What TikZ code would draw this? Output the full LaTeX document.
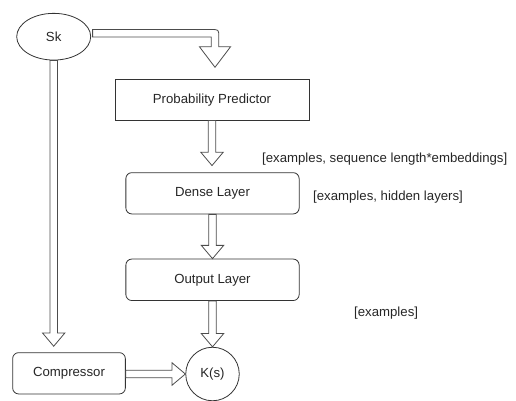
\documentclass[tikz,border=0pt]{standalone}
\usepackage{fontspec}
\setmainfont{Liberation Sans}
\usetikzlibrary{calc,shapes.geometric}
\newcommand\fsh{3.7}
\newcommand\fhh{11.2}
\newcommand\fhl{13.3}
\newcommand\fatV[2]{\draw[fat] ($(#1)+(-\fsh,0)$) -- ($(#2)+(-\fsh,-\fhl)$) -- ($(#2)+(-\fhh,-\fhl)$) -- (#2) -- ($(#2)+(\fhh,-\fhl)$) -- ($(#2)+(\fsh,-\fhl)$) -- ($(#1)+(\fsh,0)$) -- cycle;}
\newcommand\fatH[2]{\draw[fat] ($(#1)+(0,-\fsh)$) -- ($(#2)+(-\fhl,-\fsh)$) -- ($(#2)+(-\fhl,-\fhh)$) -- (#2) -- ($(#2)+(-\fhl,\fhh)$) -- ($(#2)+(-\fhl,\fsh)$) -- ($(#1)+(0,\fsh)$) -- cycle;}
\tikzset{
  every node/.style={font=\fontsize{13.2}{15.8}\selectfont, text=black!85},
  box/.style={draw=black!80, line width=0.8pt, rectangle, inner sep=0pt},
  rbox/.style={box, rounded corners=6pt},
  fat/.style={draw=black!70, line width=0.8pt, line join=miter},
  lbl/.style={anchor=west, inner sep=0pt},
}
\begin{document}
\begin{tikzpicture}[x=1pt,y=-1pt]
\useasboundingbox (0,0) rectangle (516,401);
\node[draw=black!80, line width=0.8pt, ellipse, minimum width=74pt, minimum height=46.7pt, inner sep=0pt] (Sk) at (53.7,36.7) {Sk};
\node[box, minimum width=194pt, minimum height=40.7pt] (PP) at (212,99.7) {Probability Predictor};
\node[rbox, minimum width=173.3pt, minimum height=41.3pt] (DL) at (212.5,193.3) {Dense Layer};
\node[rbox, minimum width=173.3pt, minimum height=41.5pt] (OL) at (212.5,279.8) {Output Layer};
\node[rbox, minimum width=112.7pt, minimum height=41.3pt] (Comp) at (69,373.3) {Compressor};
\node[draw=black!80, line width=0.8pt, circle, minimum size=53.5pt, inner sep=0pt] (K) at (212.5,374) {K(s)};
\node[lbl] (l1) at (262,159) {[examples, sequence length*embeddings]};
\node[lbl] (l2) at (313,197) {[examples, hidden layers]};
\node[lbl] (l3) at (354,313) {[examples]};
% Sk to Probability Predictor (bent arrow, free end)
\coordinate (skC) at (215,33.3);
\coordinate (skTip) at (215,67.3);
\draw[fat] ($(Sk.east |- skC)+(1.5,-3.75)$) -- ($(skC)+(-3.5,-3.75)$) .. controls ($(skC)+(3.75,-3.75)$) .. ($(skC)+(3.75,3.5)$) -- ($(skTip)+(3.75,-20.6)$) -- ($(skTip)+(15.6,-20.6)$) -- (skTip) -- ($(skTip)+(-15.6,-20.6)$) -- ($(skTip)+(-3.75,-20.6)$) -- ($(skC)+(-3.75,3.75)$) -- ($(Sk.east |- skC)+(1.5,3.75)$) -- cycle;
% vertical arrows
\coordinate (t1) at ($(PP.south |- DL.north)+(0,-6.7)$);
\fatV{PP.south}{t1}
\fatV{DL.south}{OL.north}
\fatV{OL.south}{K.north}
\coordinate (t2) at ($(Sk.south |- Comp.north)+(0,-6)$);
\fatV{Sk.south}{t2}
% horizontal arrow
\fatH{Comp.east |- K.west}{K.west}
\end{tikzpicture}
\end{document}
